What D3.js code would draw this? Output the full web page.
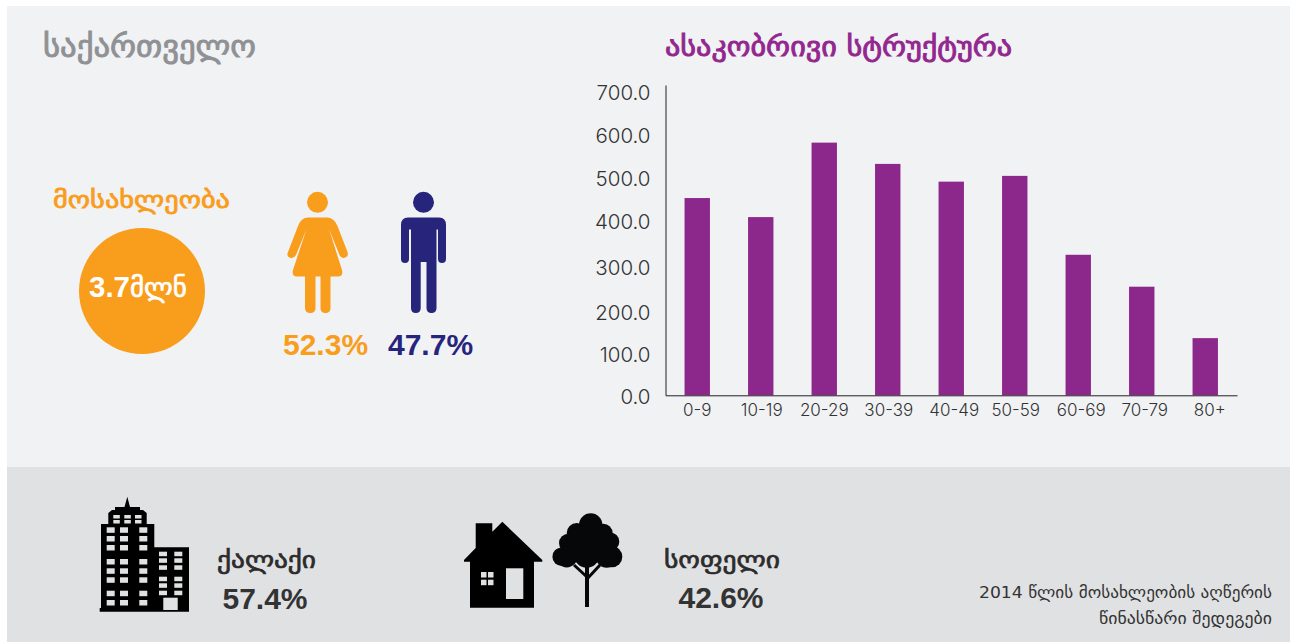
<!DOCTYPE html>
<html>
<head>
<meta charset="utf-8">
<script src="https://cdn.jsdelivr.net/npm/d3@7"></script>
<style>
    html, body { margin: 0; padding: 0; background: #fff; }
    svg { display: block; }
    text { font-family: "Liberation Sans", "DejaVu Sans", sans-serif; }
    .geo { font-family: "DejaVu Sans", sans-serif; }
    .axis text { font-family: Inter, "Liberation Sans", sans-serif; font-weight: 300; fill: #333; }
</style>
</head>
<body>
<script>
// chart data
var ageGroups = ["0-9", "10-19", "20-29", "30-39", "40-49", "50-59", "60-69", "70-79", "80+"];
var ageValues = [445, 402, 570, 522, 482, 495, 317, 245, 129];
var yTicks = [0, 100, 200, 300, 400, 500, 600, 700];

var genderLabels = ["52.3%", "47.7%"];
var settlementNames = ["ქალაქი", "სოფელი"];
var settlementShares = ["57.4%", "42.6%"];

// colours
var orange = "#f99d1c";
var navy = "#27247b";
var purple = "#8c288c";
var topBg = "#f1f2f4";
var bottomBg = "#e0e1e3";

var width = 1290;
var height = 642;

var svg = d3.select("body")
    .append("svg")
    .attr("width", width)
    .attr("height", height);

// background panels
svg.append("rect").attr("x", 7).attr("y", 6).attr("width", width - 7).attr("height", 461).attr("fill", topBg);
svg.append("rect").attr("x", 7).attr("y", 467).attr("width", width - 7).attr("height", 175).attr("fill", bottomBg);

// little helper so the labels below stay short
function label(x, y, str, size, fill, opts) {
    opts = opts || {};
    var t = svg.append("text")
        .attr("x", x)
        .attr("y", y)
        .attr("font-size", size)
        .attr("fill", fill)
        .attr("font-weight", opts.weight || "normal")
        .attr("text-anchor", opts.anchor || "start")
        .text(str);
    if (opts.geo) t.attr("class", "geo");
    if (opts.len) t.attr("textLength", opts.len).attr("lengthAdjust", "spacingAndGlyphs");
    // regular DejaVu is too thin and its bold too heavy, so thicken it a bit
    if (opts.thick) t.attr("stroke", fill).attr("stroke-width", opts.thick);
    return t;
}

// headings
label(43, 57, "საქართველო", 31, "#8f9194", { geo: true, thick: 0.9, len: 213 });
label(665, 56, "ასაკობრივი სტრუქტურა", 27, "#92278f", { geo: true, thick: 0.9, len: 347 });
label(53, 208, "მოსახლეობა", 24, orange, { geo: true, thick: 0.8, len: 177 });

// population circle
svg.append("circle").attr("cx", 142).attr("cy", 291).attr("r", 63).attr("fill", orange);
var popText = svg.append("text")
    .attr("x", 89)
    .attr("y", 297)
    .attr("font-size", 29.5)
    .attr("font-weight", "bold")
    .attr("fill", "#fff");
popText.append("tspan").text("3.7");
popText.append("tspan").attr("class", "geo").attr("font-size", 27)
    .attr("font-weight", "normal").attr("stroke", "#fff").attr("stroke-width", 0.7).text("მლნ");

// woman
svg.append("circle").attr("cx", 317.5).attr("cy", 202.3).attr("r", 10.5).attr("fill", orange);
svg.append("path")
    .attr("fill", orange)
    .attr("d", "M308,217.5 L327,217.5 Q334,217.5 337.5,226 L347.5,252 Q349,257 344,258 Q341,258.5 339.5,255 L329,229 " +
        "L342,270 Q343.5,276.5 338,276.5 L330.5,276.5 L330.5,308 Q330.5,313 325.5,313 Q320.5,313 320.5,308 L320.5,276.5 " +
        "L315.5,276.5 L315.5,308 Q315.5,313 310.3,313 Q305,313 305,308 L305,276.5 L297,276.5 Q291.5,276.5 293,270 " +
        "L306.5,229 L296,255 Q294,258.5 291,258 Q286,257 288,252 L298,226 Q301,217.5 308,217.5 Z");

// man
svg.append("circle").attr("cx", 423.5).attr("cy", 202.3).attr("r", 10.5).attr("fill", navy);
svg.append("path")
    .attr("fill", navy)
    .attr("d", "M408,217.5 L439,217.5 Q446,217.5 446,225 L446,259 Q446,263 442,263 Q438,263 438,259 L438,229.5 L436.5,229.5 " +
        "L436.5,308 Q436.5,313 431.5,313 Q426.5,313 426.5,308 L426.5,262 L420.7,262 L420.7,308 Q420.7,313 415.8,313 " +
        "Q411,313 411,308 L411,229.5 L409,229.5 L409,259 Q409,263 405,263 Q401,263 401,259 L401,225 Q401,217.5 408,217.5 Z");

label(283, 355, genderLabels[0], 30, orange, { weight: "bold" });
label(388, 355, genderLabels[1], 30, navy, { weight: "bold" });

// age chart
var x = d3.scaleBand()
    .domain(ageGroups)
    .range([665.5, 1237])
    .paddingInner(0.6)
    .paddingOuter(0.3);

var y = d3.scaleLinear()
    .domain([0, 700])
    .range([395.3, 85]);

svg.append("g")
    .selectAll("rect")
    .data(ageValues)
    .enter().append("rect")
    .attr("x", function (d, i) { return x(ageGroups[i]); })
    .attr("y", function (d) { return y(d); })
    .attr("width", x.bandwidth())
    .attr("height", function (d) { return y(0) - y(d); })
    .attr("fill", purple);

var yAxis = svg.append("g")
    .attr("class", "axis")
    .attr("transform", "translate(665.5,0)")
    .call(d3.axisLeft(y).tickValues(yTicks).tickSize(0).tickPadding(15).tickFormat(d3.format(".1f")));
yAxis.select(".domain").attr("stroke", "#222");
// the labels in the picture sit a little below their value
var yLabelNudge = [1, 3.3, 5.6, 4.9, 3.1, 4.4, 5.7, 7];
yAxis.selectAll(".tick text")
    .attr("font-size", 20.5)
    .attr("dy", function (d, i) { return 7 + yLabelNudge[i]; });

var xAxis = svg.append("g")
    .attr("class", "axis")
    .attr("transform", "translate(0,395.3)")
    .call(d3.axisBottom(x).tickSize(0).tickPadding(9));
xAxis.select(".domain").attr("stroke", "#222");
// same for the age labels, they drift right of their bars
var xLabelNudge = [0, 1, 0, 1, 3, 1, 3, 3, 4.5];
xAxis.selectAll(".tick text")
    .attr("font-size", 17)
    .attr("dx", function (d, i) { return xLabelNudge[i]; });

// tower block icon
var tower = svg.append("g").attr("fill", "#000");
tower.append("path").attr("d", "M127.3,496.7 L130,507 L140,507 L140,510 L143,510 L146.7,513 L146.7,524 L154.3,524 L154.3,547.3 " +
    "L189,547.3 L189,611.7 L99.7,611.7 L99.7,608 L101,608 L101,524 L108.3,524 L108.3,513 L112,510 L115,510 L115,507 L124.5,507 Z");
var towerCols = [106.7, 120, 139.3];
var towerRows = [527.3, 536, 545, 559, 568.3, 577.3, 590.7, 600];
var crownCols = [113.3, 124.3, 135];
var crownRows = [515, 520];
var sideCols = [159, 174.3];
var sideRows = [551.7, 558.3, 565.3, 576.7, 583.3, 590.7];
function windows(cols, rows, w, h) {
    cols.forEach(function (cx) {
        rows.forEach(function (cy) {
            tower.append("rect").attr("x", cx).attr("y", cy).attr("width", w).attr("height", h).attr("fill", bottomBg);
        });
    });
}
windows(towerCols, towerRows, 8, 5.5);
windows(crownCols, crownRows, 6.5, 3.5);
windows(sideCols, sideRows, 8, 4.5);
tower.append("rect").attr("x", 163.3).attr("y", 597.7).attr("width", 14.4).attr("height", 12.3).attr("fill", bottomBg);

label(217, 568, settlementNames[0], 24, "#2b2b2b", { geo: true, thick: 0.7, len: 99 });
label(265, 609, settlementShares[0], 30, "#333", { weight: "bold", anchor: "middle" });

// house icon
var house = svg.append("g").attr("fill", "#000");
house.append("path").attr("d", "M475.7,523.3 L492.3,523.3 L492.3,531.7 L502.3,521.7 L542.3,560 L542.3,561.7 L534,561.7 L534,607.7 " +
    "L470,607.7 L470,561.7 L464,561.7 L464,560 L475.7,548 Z");
[[481, 572], [488, 572], [481, 579.7], [488, 579.7]].forEach(function (p) {
    house.append("rect").attr("x", p[0]).attr("y", p[1]).attr("width", 5.5).attr("height", 5.5).attr("fill", bottomBg);
});
house.append("rect").attr("x", 506).attr("y", 568.3).attr("width", 17.3).attr("height", 30.7).attr("fill", bottomBg);

// tree icon
var tree = svg.append("g").attr("fill", "#060709").attr("stroke", "#060709");
[[590.7, 525, 11.7], [576.7, 533, 10], [603.3, 533, 9.3], [568.3, 543, 9.3], [610, 541.7, 9.3], [561.7, 556.7, 9.3],
    [611.7, 556.7, 10.6], [586.7, 545, 20], [566.7, 556.7, 10.7], [586.7, 555, 12.7], [606.7, 556.7, 11]].forEach(function (c) {
    tree.append("circle").attr("cx", c[0]).attr("cy", c[1]).attr("r", c[2]).attr("stroke", "none");
});
tree.append("path").attr("fill", "none").attr("stroke-width", 4).attr("d", "M587,607 L587,565");
tree.append("path").attr("fill", "none").attr("stroke-width", 3).attr("d", "M587,577 L574,565 M587,579 L600,565");

label(664, 568, settlementNames[1], 24, "#2b2b2b", { geo: true, thick: 0.7, len: 116 });
label(721, 608, settlementShares[1], 30, "#333", { weight: "bold", anchor: "middle" });

// footnote
label(1272, 598, "2014 წლის მოსახლეობის აღწერის", 16, "#333", { geo: true, anchor: "end", len: 293 });
label(1272, 624, "წინასწარი შედეგები", 16, "#333", { geo: true, anchor: "end", len: 173 });
</script>
</body>
</html>
